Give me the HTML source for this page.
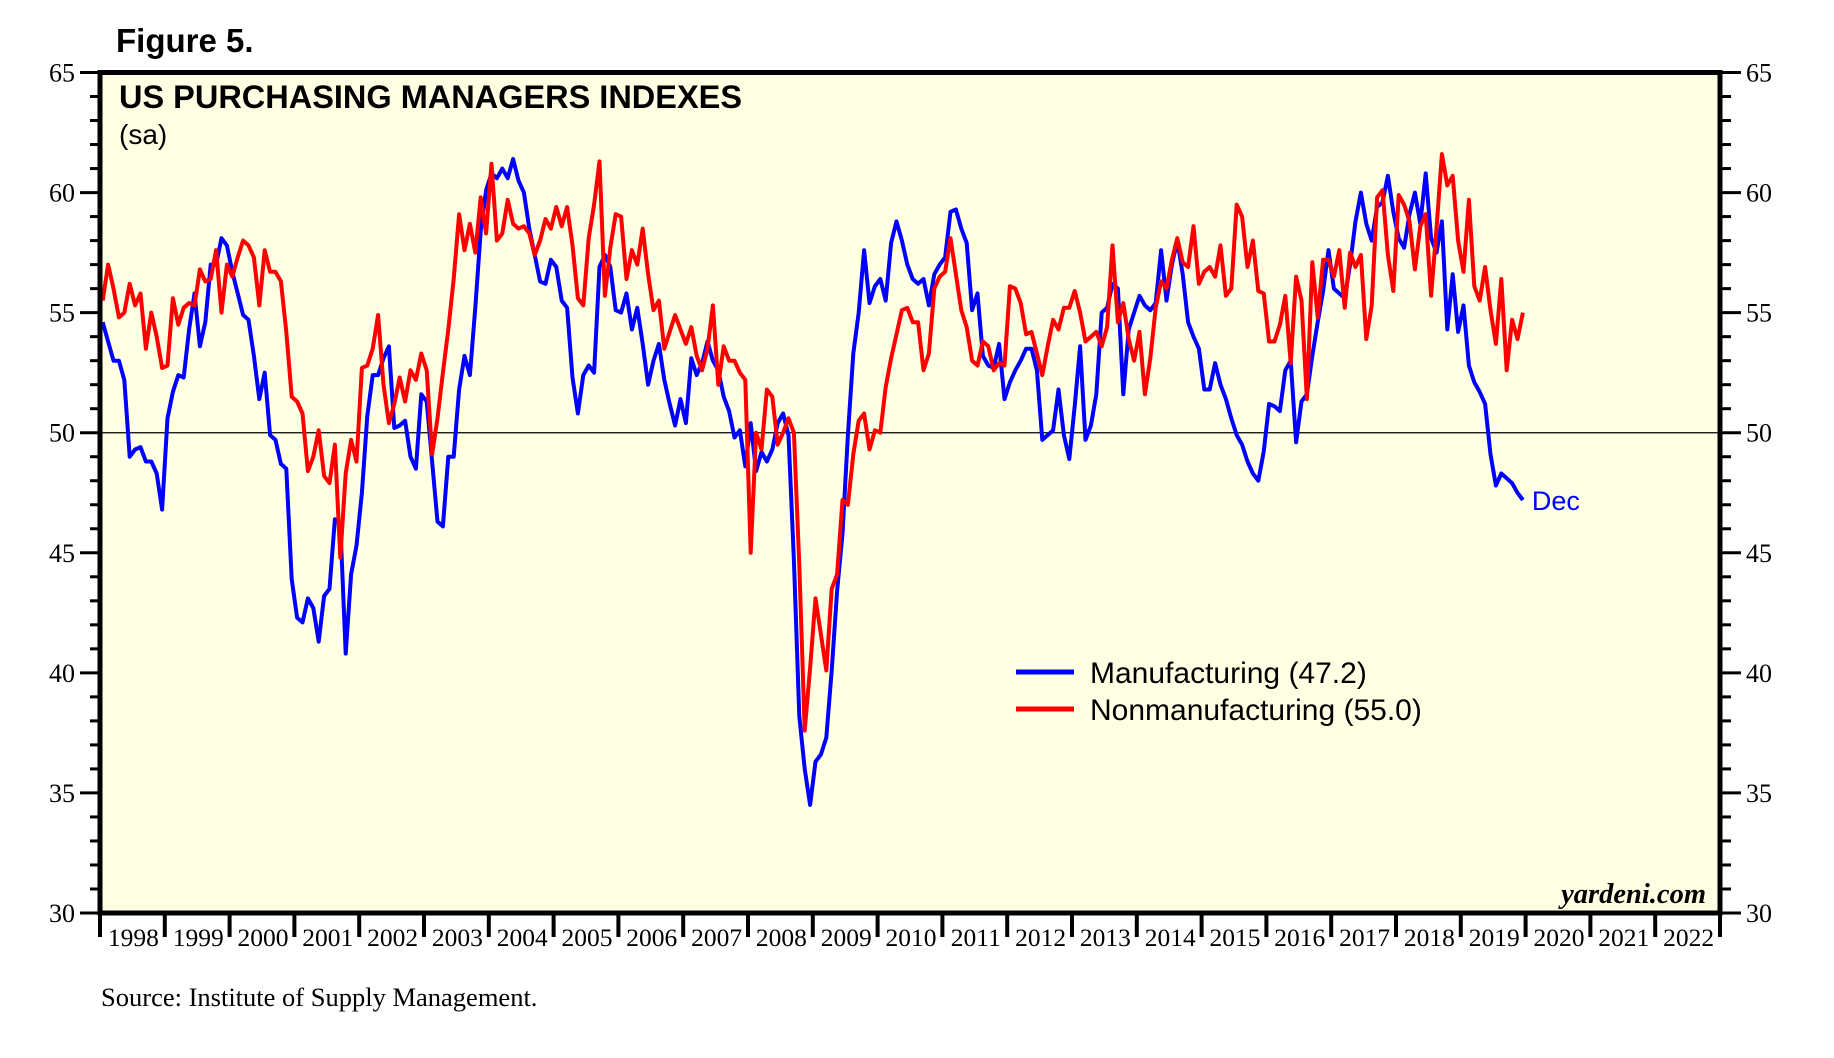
<!DOCTYPE html>
<html><head><meta charset="utf-8">
<style>
html,body{margin:0;padding:0;background:#fff;}
svg{display:block;}
</style></head>
<body>
<svg id="chart" width="1834" height="1058" viewBox="0 0 1834 1058" xmlns="http://www.w3.org/2000/svg">
<text x="116" y="52" font-family="Liberation Sans, sans-serif" font-weight="bold" font-size="33" fill="#000">Figure 5.</text>
<rect x="100" y="72.5" width="1620" height="840.5" fill="#ffffe3"/>
<g id="ticks"></g>
<g id="series"></g>
<rect x="100" y="72.5" width="1620" height="840.5" fill="none" stroke="#000" stroke-width="5"/>
<text x="119" y="108" font-family="Liberation Sans, sans-serif" font-weight="bold" font-size="32.5" fill="#000">US PURCHASING MANAGERS INDEXES</text>
<text x="119" y="144" font-family="Liberation Sans, sans-serif" font-size="28" fill="#000">(sa)</text>
<g>
<line x1="1016" y1="672" x2="1074" y2="672" stroke="#0000ff" stroke-width="5"/>
<text x="1090" y="683" font-family="Liberation Sans, sans-serif" font-size="30" fill="#000">Manufacturing (47.2)</text>
<line x1="1016" y1="709" x2="1074" y2="709" stroke="#ff0000" stroke-width="5"/>
<text x="1090" y="720" font-family="Liberation Sans, sans-serif" font-size="30" fill="#000">Nonmanufacturing (55.0)</text>
</g>
<text id="declabel" font-family="Liberation Sans, sans-serif" font-size="27" fill="#0000ff">Dec</text>
<text x="1706" y="903" text-anchor="end" font-family="Liberation Serif, serif" font-weight="bold" font-style="italic" font-size="28.5" fill="#000">yardeni.com</text>
<text x="101" y="1006" font-family="Liberation Serif, serif" font-size="26.5" fill="#000">Source: Institute of Supply Management.</text>
</svg>
<script>
const years = [1998,1999,2000,2001,2002,2003,2004,2005,2006,2007,2008,2009,2010,2011,2012,2013,2014,2015,2016,2017,2018,2019,2020,2021,2022];
const yTicks = [30,35,40,45,50,55,60,65];
const startYear = 1998;
const manufacturing = [
54.6,53.8,53.0,53.0,52.2,49.0,49.3,49.4,48.8,48.8,48.3,46.8,
50.6,51.7,52.4,52.3,54.3,55.8,53.6,54.6,57.0,57.0,58.1,57.8,
56.7,55.8,54.9,54.7,53.2,51.4,52.5,49.9,49.7,48.7,48.5,43.9,
42.3,42.1,43.1,42.7,41.3,43.2,43.5,46.4,46.2,40.8,44.1,45.3,
47.5,50.7,52.4,52.4,53.1,53.6,50.2,50.3,50.5,49.0,48.5,51.6,
51.3,48.8,46.3,46.1,49.0,49.0,51.8,53.2,52.4,55.2,58.4,60.1,
60.8,60.6,61.0,60.6,61.4,60.5,60.0,58.5,57.4,56.3,56.2,57.2,
56.9,55.5,55.2,52.3,50.8,52.4,52.8,52.5,56.9,57.4,56.9,55.1,
55.0,55.8,54.3,55.2,53.7,52.0,53.0,53.7,52.2,51.2,50.3,51.4,
50.4,53.1,52.4,52.9,53.8,53.0,52.6,51.5,50.9,49.8,50.1,48.6,
50.4,48.4,49.2,48.8,49.3,50.4,50.8,49.9,44.7,38.2,36.0,34.5,
36.3,36.6,37.3,40.1,43.4,45.8,49.9,53.3,55.0,57.6,55.4,56.1,
56.4,55.5,57.9,58.8,58.0,57.0,56.4,56.2,56.4,55.3,56.6,57.0,
57.3,59.2,59.3,58.5,57.9,55.1,55.8,53.2,52.8,52.7,53.7,51.4,
52.1,52.6,53.0,53.5,53.5,52.6,49.7,49.9,50.1,51.8,49.9,48.9,
51.1,53.6,49.7,50.3,51.6,55.0,55.2,56.2,56.0,51.6,54.3,55.0,
55.7,55.3,55.1,55.4,57.6,55.5,57.0,58.0,56.6,54.6,54.0,53.5,
51.8,51.8,52.9,52.0,51.4,50.6,49.9,49.5,48.8,48.3,48.0,49.2,
51.2,51.1,50.9,52.6,53.0,49.6,51.3,51.6,53.2,54.6,55.9,57.6,
56.0,55.8,55.6,57.0,58.8,60.0,58.7,58.0,59.4,59.6,60.7,59.2,
58.1,57.7,59.1,60.0,58.7,60.8,58.1,57.5,58.8,54.3,56.6,54.2,
55.3,52.8,52.1,51.7,51.2,49.1,47.8,48.3,48.1,47.9,47.5,47.2
];
const nonmanufacturing = [
55.5,57.0,56.0,54.8,55.0,56.2,55.3,55.8,53.5,55.0,54.0,52.7,
52.8,55.6,54.5,55.2,55.4,55.3,56.8,56.3,56.4,57.6,55.0,57.0,
56.5,57.3,58.0,57.8,57.3,55.3,57.6,56.7,56.7,56.3,54.2,51.5,
51.3,50.8,48.4,49.0,50.1,48.2,47.9,49.5,44.8,48.3,49.7,48.8,
52.7,52.8,53.5,54.9,52.0,50.4,51.2,52.3,51.3,52.6,52.2,53.3,
52.6,49.1,50.6,52.5,54.3,56.4,59.1,57.6,58.7,57.5,59.8,58.3,
61.2,58.0,58.3,59.7,58.7,58.5,58.6,58.3,57.4,58.0,58.9,58.5,
59.4,58.6,59.4,57.8,55.6,55.3,58.1,59.5,61.3,55.7,57.7,59.1,
59.0,56.4,57.6,57.0,58.5,56.6,55.1,55.5,53.5,54.2,54.9,54.3,
53.7,54.4,53.2,52.6,53.5,55.3,52.0,53.6,53.0,53.0,52.5,52.2,
45.0,50.0,49.3,51.8,51.5,49.5,50.0,50.6,50.0,44.5,37.6,40.2,
43.1,41.6,40.1,43.5,44.1,47.2,47.0,49.1,50.5,50.8,49.3,50.1,
50.0,51.9,53.1,54.1,55.1,55.2,54.6,54.6,52.6,53.3,56.0,56.5,
56.7,58.1,56.6,55.1,54.4,53.0,52.8,53.8,53.6,52.6,52.9,52.8,
56.1,56.0,55.4,54.1,54.2,53.3,52.4,53.6,54.7,54.3,55.2,55.2,
55.9,55.0,53.8,54.0,54.2,53.6,54.4,57.8,54.6,55.4,53.9,53.0,
54.2,51.6,53.1,55.2,56.3,56.0,57.2,58.1,57.1,56.9,58.6,56.2,
56.7,56.9,56.5,57.8,55.7,56.0,59.5,59.0,56.9,58.0,55.9,55.8,
53.8,53.8,54.5,55.7,52.9,56.5,55.5,51.4,57.1,54.8,57.2,57.2,
56.5,57.6,55.2,57.5,56.9,57.4,53.9,55.3,59.8,60.1,57.4,55.9,
59.9,59.5,58.8,56.8,58.6,59.1,55.7,58.5,61.6,60.3,60.7,58.0,
56.7,59.7,56.1,55.5,56.9,55.1,53.7,56.4,52.6,54.7,53.9,55.0
];
const NS='http://www.w3.org/2000/svg';
const X0=100, X1=1720, Y65=72.5, Y30=913;
function xYear(t){ return X0 + (t-1998)/25*(X1-X0); }
function xMonth(i){ return xYear(startYear + (i+0.5)/12); }
function yVal(v){ return Y30 - (v-30)/35*(Y30-Y65); }
function mk(tag, attrs, parent){ const e=document.createElementNS(NS,tag); for(const k in attrs) e.setAttribute(k,attrs[k]); parent.appendChild(e); return e; }
const tg=document.getElementById('ticks');
for(let v=30; v<=65; v++){
  const y=yVal(v), major=(v%5===0);
  const l=mk('line',{x1:X0-(major?20:10),x2:X0,y1:y,y2:y,stroke:'#000','stroke-width':3},tg);
  
  
  const r=mk('line',{x1:X1,x2:X1+(major?21:11),y1:y,y2:y,stroke:'#000','stroke-width':3},tg);
  
  
}
yTicks.forEach(v=>{
  const y=yVal(v);
  const a=mk('text',{x:75,y:y+9,'text-anchor':'end','font-family':'Liberation Serif, serif','font-size':26},tg);
  a.textContent=v;
  
  
  const b=mk('text',{x:1746,y:y+9,'font-family':'Liberation Serif, serif','font-size':26},tg);
  b.textContent=v;
  
  
});
const ref=mk('line',{x1:X0,x2:X1,y1:yVal(50),y2:yVal(50),stroke:'#000','stroke-width':1.2},tg);


for(let k=0;k<=years.length;k++){
  const x=xYear(1998+k);
  const t=mk('line',{x1:x,x2:x,y1:913,y2:937,stroke:'#000','stroke-width':4},tg);
  
  
}
years.forEach(yr=>{
  const t=mk('text',{x:xYear(yr+0.5)+1,y:946,'text-anchor':'middle','font-family':'Liberation Serif, serif','font-size':25.5},tg);
  t.textContent=yr;
  
  
});
const sg=document.getElementById('series');
function pts(arr){ return arr.map((v,i)=>xMonth(i).toFixed(1)+','+yVal(v).toFixed(1)).join(' '); }
const pm=mk('polyline',{points:pts(manufacturing),fill:'none',stroke:'#0000ff','stroke-width':4,'stroke-linejoin':'round'},sg);


const pn=mk('polyline',{points:pts(nonmanufacturing),fill:'none',stroke:'#ff0000','stroke-width':4,'stroke-linejoin':'round'},sg);


const last=manufacturing.length-1;
const dl=document.getElementById('declabel');
dl.setAttribute('x', xMonth(last)+9);
dl.setAttribute('y', yVal(manufacturing[last])+10);
</script>
</body></html>
